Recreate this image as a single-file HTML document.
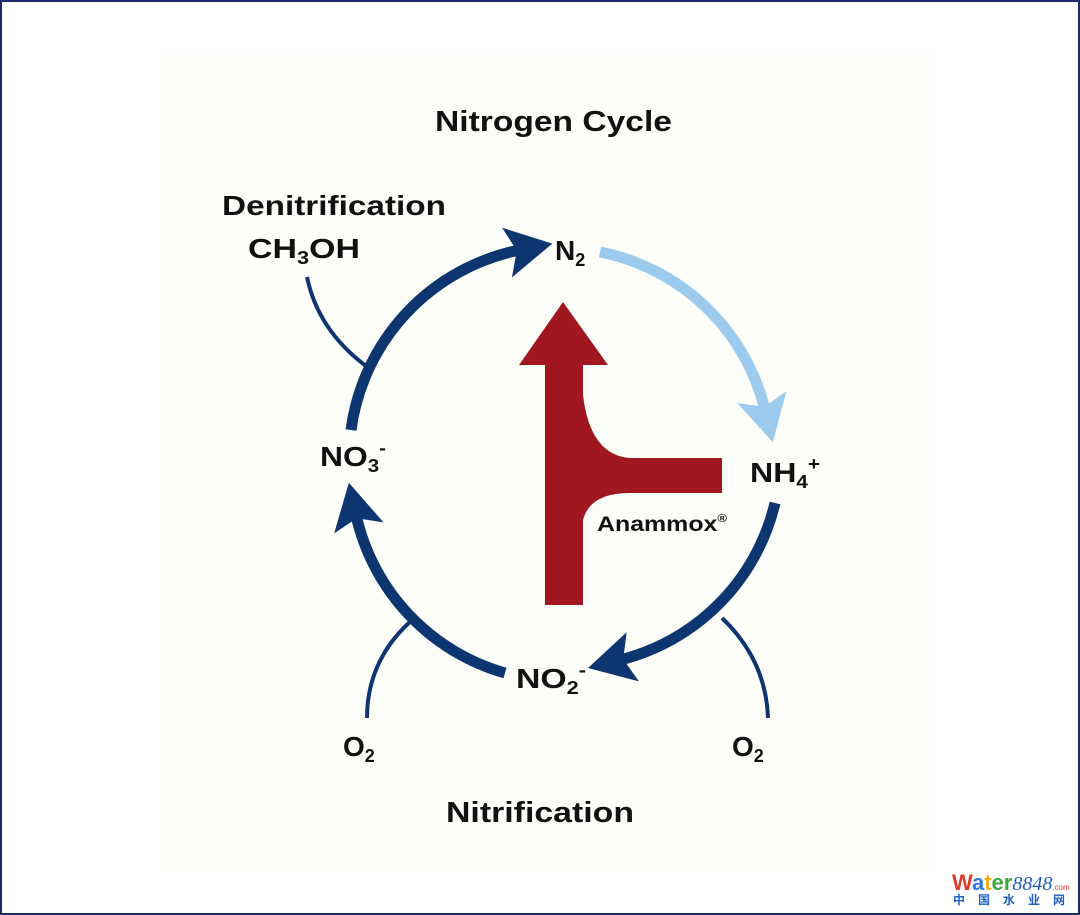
<!DOCTYPE html>
<html><head><meta charset="utf-8"><style>
html,body{margin:0;padding:0;background:#fff}
#w{position:relative;width:1076px;height:911px;border:2px solid #1f2a6b;background:#fff;overflow:hidden}
svg{position:absolute;left:-2px;top:-2px}
text{font-family:"Liberation Sans",sans-serif;font-weight:bold;fill:#111}
</style></head><body><div id="w">
<svg width="1080" height="915" viewBox="0 0 1080 915">
<defs>
<marker id="an" markerWidth="4.2" markerHeight="4.6" refX="1.2" refY="2.3" orient="auto" markerUnits="strokeWidth"><path d="M0,0 L4.2,2.3 L0,4.6 L0.9,2.3 Z" fill="#0d3570"/></marker>
<marker id="al" markerWidth="4.2" markerHeight="4.6" refX="1.2" refY="2.3" orient="auto" markerUnits="strokeWidth"><path d="M0,0 L4.2,2.3 L0,4.6 L0.9,2.3 Z" fill="#9ccbee"/></marker>
</defs>
<rect x="160" y="55" width="770" height="815" fill="#fdfdfa"/>
<text x="435" y="131" font-size="29" textLength="237" lengthAdjust="spacingAndGlyphs">Nitrogen Cycle</text>
<text x="222" y="215" font-size="28" textLength="224" lengthAdjust="spacingAndGlyphs">Denitrification</text>
<text x="248" y="258" font-size="28" textLength="112" lengthAdjust="spacingAndGlyphs">CH<tspan font-size="18" dy="6">3</tspan><tspan dy="-6">OH</tspan></text>
<text x="555" y="260" font-size="28">N<tspan font-size="18" dy="6">2</tspan></text>
<text x="750" y="482" font-size="28" textLength="70" lengthAdjust="spacingAndGlyphs">NH<tspan font-size="18" dy="6">4</tspan><tspan font-size="18" dy="-18">+</tspan></text>
<text x="320" y="466" font-size="28" textLength="66" lengthAdjust="spacingAndGlyphs">NO<tspan font-size="18" dy="6">3</tspan><tspan font-size="18" dy="-18">-</tspan></text>
<text x="516" y="688" font-size="28" textLength="70" lengthAdjust="spacingAndGlyphs">NO<tspan font-size="18" dy="6">2</tspan><tspan font-size="18" dy="-18">-</tspan></text>
<text x="343" y="756" font-size="28">O<tspan font-size="18" dy="6">2</tspan></text>
<text x="732" y="756" font-size="28">O<tspan font-size="18" dy="6">2</tspan></text>
<text x="446" y="822" font-size="29" textLength="188" lengthAdjust="spacingAndGlyphs">Nitrification</text>
<text x="597" y="531" font-size="21" textLength="130" lengthAdjust="spacingAndGlyphs">Anammox<tspan font-size="11" dy="-9">®</tspan></text>
<g fill="none" stroke-width="11">
<path d="M351,430 A212,212 0 0 1 520,250" stroke="#0d3570" marker-end="url(#an)"/>
<path d="M600,252 A212,212 0 0 1 765,410" stroke="#9ccbee" marker-end="url(#al)"/>
<path d="M775,503 A212,212 0 0 1 620,660" stroke="#0d3570" marker-end="url(#an)"/>
<path d="M505,673 A212,212 0 0 1 356,515" stroke="#0d3570" marker-end="url(#an)"/>
</g>
<g fill="none" stroke="#0d3570" stroke-width="4">
<path d="M307,277 Q318,330 366,366"/>
<path d="M367,718 Q367,660 412,620"/>
<path d="M768,718 Q766,660 722,618"/>
</g>
<path d="M545,605 L545,365 L519,365 L563,302 L608,365 L583,365 L583,395 Q590,455 630,458 L722,458 L722,493 L630,493 Q590,493 583,520 L583,605 Z" fill="#a0171f"/>
<text x="952" y="890" font-size="22" style="fill:#e23a2a">W<tspan style="fill:#2a7be0">a</tspan><tspan style="fill:#f2a81c">t</tspan><tspan style="fill:#3aa83a">er</tspan><tspan font-family="Liberation Serif" font-style="italic" font-weight="normal" font-size="20" style="fill:#1f5fc0">8848</tspan><tspan font-size="8" font-weight="normal" style="fill:#e23a2a">.com</tspan></text>
<text x="953" y="904" font-size="12" style="fill:#1f5fc0;font-family:'Liberation Sans','Noto Sans CJK SC',sans-serif" letter-spacing="13">中国水业网</text>
</svg>
</div></body></html>
